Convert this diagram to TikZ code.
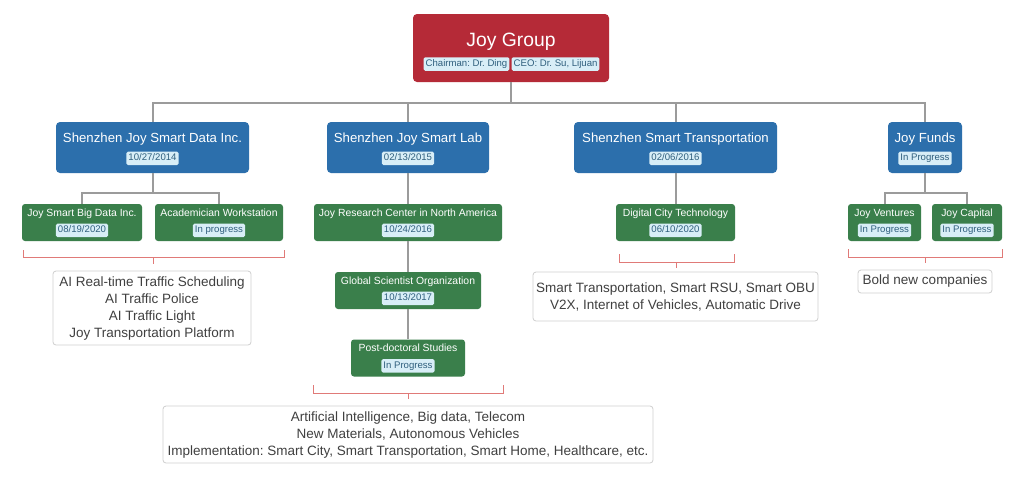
\documentclass[tikz,border=0pt]{standalone}
\usepackage{fontspec}
\setmainfont{Liberation Sans}
\usetikzlibrary{calc}
\frenchspacing
\definecolor{grpred}{HTML}{B52A37}
\definecolor{corpblue}{HTML}{2C6FAC}
\definecolor{unitgreen}{HTML}{3A7F4B}
\definecolor{tagfill}{HTML}{D8EEF7}
\definecolor{tagtext}{HTML}{2F5F7D}
\definecolor{linkgray}{HTML}{9B9B9B}
\definecolor{brackred}{HTML}{E07A78}
\definecolor{sumborder}{HTML}{CFCFCF}
\definecolor{sumtext}{HTML}{404040}
\tikzset{
  box/.style={draw=none, rounded corners=4pt, inner sep=0pt},
  grpbox/.style={box, fill=grpred},
  corpbox/.style={box, fill=corpblue},
  unitbox/.style={box, fill=unitgreen, rounded corners=3pt},
  grptitle/.style={text=white, inner sep=0pt, anchor=base, font=\fontsize{19.3}{22}\selectfont\frenchspacing},
  corptitle/.style={text=white, inner sep=0pt, anchor=base, font=\fontsize{13.2}{15}\selectfont\frenchspacing},
  unittitle/.style={text=white, inner sep=0pt, anchor=base, font=\fontsize{10.4}{12}\selectfont\frenchspacing},
  tagbox/.style={fill=tagfill, text=tagtext, rounded corners=1.5pt, inner xsep=2pt, inner ysep=0pt,
    minimum height=13.5pt, text height=7.2pt, text depth=2pt, font=\fontsize{9.6}{10}\selectfont\frenchspacing},
  link/.style={draw=linkgray, line width=2pt},
  brack/.style={draw=brackred, line width=1pt},
  sumbox/.style={draw=sumborder, line width=0.8pt, fill=white, rounded corners=3pt, text=sumtext,
    align=center, font=\fontsize{13.5}{17}\selectfont\frenchspacing, inner sep=0pt},
}
\begin{document}
\begin{tikzpicture}[x=1pt,y=-1pt]
\path[use as bounding box, fill=white] (0,0) rectangle (1024,483);

% top
\node[grpbox, minimum width=196pt, minimum height=68pt] (grp) at (511,48) {};
\node[grptitle] (grpt) at ($(grp.north)+(0,33)$) {Joy Group};
\node[tagbox, anchor=east] (grpa) at (509.5,64) {Chairman: Dr. Ding};
\node[tagbox, anchor=west] (grpb) at (511.5,64) {CEO: Dr. Su, Lijuan};

% companies
\node[corpbox, minimum width=193pt, minimum height=51pt] (c1) at (152.5,147.5) {};
\node[corptitle] (c1t) at ($(c1.north)+(0,21)$) {Shenzhen Joy Smart Data Inc.};
\node[tagbox] (c1d) at ($(c1.north)+(0,36.5)$) {10/27/2014};

\node[corpbox, minimum width=162pt, minimum height=51pt] (c2) at (408,147.5) {};
\node[corptitle] (c2t) at ($(c2.north)+(0,21)$) {Shenzhen Joy Smart Lab};
\node[tagbox] (c2d) at ($(c2.north)+(0,36.5)$) {02/13/2015};

\node[corpbox, minimum width=203pt, minimum height=51pt] (c3) at (675.5,147.5) {};
\node[corptitle] (c3t) at ($(c3.north)+(0,21)$) {Shenzhen Smart Transportation};
\node[tagbox] (c3d) at ($(c3.north)+(0,36.5)$) {02/06/2016};

\node[corpbox, minimum width=74pt, minimum height=51pt] (c4) at (925,147.5) {};
\node[corptitle] (c4t) at ($(c4.north)+(0,21)$) {Joy Funds};
\node[tagbox] (c4d) at ($(c4.north)+(0,36.5)$) {In Progress};

% units
\node[unitbox, minimum width=120pt, minimum height=37pt] (u1) at (82,222.5) {};
\node[unittitle] (u1t) at ($(u1.north)+(0,12.5)$) {Joy Smart Big Data Inc.};
\node[tagbox] (u1d) at ($(u1.north)+(0,26.5)$) {08/19/2020};

\node[unitbox, minimum width=128pt, minimum height=37pt] (u2) at (219,222.5) {};
\node[unittitle] (u2t) at ($(u2.north)+(0,12.5)$) {Academician Workstation};
\node[tagbox] (u2d) at ($(u2.north)+(0,26.5)$) {In progress};

\node[unitbox, minimum width=188pt, minimum height=37pt] (u3) at (408,222.5) {};
\node[unittitle] (u3t) at ($(u3.north)+(0,12.5)$) {Joy Research Center in North America};
\node[tagbox] (u3d) at ($(u3.north)+(0,26.5)$) {10/24/2016};

\node[unitbox, minimum width=146pt, minimum height=37pt] (u4) at (408,290.5) {};
\node[unittitle] (u4t) at ($(u4.north)+(0,12.5)$) {Global Scientist Organization};
\node[tagbox] (u4d) at ($(u4.north)+(0,26.5)$) {10/13/2017};

\node[unitbox, minimum width=114pt, minimum height=37pt] (u5) at (408,358) {};
\node[unittitle] (u5t) at ($(u5.north)+(0,12.5)$) {Post-doctoral Studies};
\node[tagbox] (u5d) at ($(u5.north)+(0,26.5)$) {In Progress};

\node[unitbox, minimum width=119pt, minimum height=37pt] (u6) at (675.5,222.5) {};
\node[unittitle] (u6t) at ($(u6.north)+(0,12.5)$) {Digital City Technology};
\node[tagbox] (u6d) at ($(u6.north)+(0,26.5)$) {06/10/2020};

\node[unitbox, minimum width=73pt, minimum height=37pt] (u7) at (884.5,222.5) {};
\node[unittitle] (u7t) at ($(u7.north)+(0,12.5)$) {Joy Ventures};
\node[tagbox] (u7d) at ($(u7.north)+(0,26.5)$) {In Progress};

\node[unitbox, minimum width=70pt, minimum height=37pt] (u8) at (967,222.5) {};
\node[unittitle] (u8t) at ($(u8.north)+(0,12.5)$) {Joy Capital};
\node[tagbox] (u8d) at ($(u8.north)+(0,26.5)$) {In Progress};

% connectors
\foreach \c in {c1,c2,c3,c4}
  \draw[link] (grp.south) -- ++(0,21) -| (\c.north);
\draw[link] (c1.south) -- ++(0,20) -| (u1.north);
\draw[link] (c1.south) -- ++(0,20) -| (u2.north);
\draw[link] (c2.south) -- (u3.north);
\draw[link] (u3.south) -- (u4.north);
\draw[link] (u4.south) -- (u5.north);
\draw[link] (c3.south) -- (u6.north);
\draw[link] (c4.south) -- ++(0,20) -| (u7.north);
\draw[link] (c4.south) -- ++(0,20) -| (u8.north);

% summaries
\node[sumbox, minimum width=198pt, minimum height=74pt] (s1) at (152,308)
  {AI Real-time Traffic Scheduling\\AI Traffic Police\\AI Traffic Light\\Joy Transportation Platform};
\node[sumbox, minimum width=490pt, minimum height=57pt] (s2) at (408,434.5)
  {Artificial Intelligence, Big data, Telecom\\New Materials, Autonomous Vehicles\\Implementation: Smart City, Smart Transportation, Smart Home, Healthcare, etc.};
\node[sumbox, minimum width=285pt, minimum height=49pt] (s3) at (675.5,296.5)
  {Smart Transportation, Smart RSU, Smart OBU\\V2X, Internet of Vehicles, Automatic Drive};
\node[sumbox, minimum width=134pt, minimum height=23pt] (s4) at (925,281.5)
  {Bold new companies};

% brackets
\coordinate (b1a) at (23,250);  \coordinate (b1b) at (284,250);  \coordinate (b1c) at (153.5,257);
\coordinate (b2a) at (313,385); \coordinate (b2b) at (503,385);  \coordinate (b2c) at (408,393);
\coordinate (b3a) at (619,254); \coordinate (b3b) at (734,254);  \coordinate (b3c) at (676.5,262);
\coordinate (b4a) at (848,249); \coordinate (b4b) at (1002,249); \coordinate (b4c) at (925,257);
\draw[brack] (b1a) -- ++(0,7) -| (b1b);  \draw[brack] (b1c) -- ++(0,7);
\draw[brack] (b2a) -- ++(0,8) -| (b2b);  \draw[brack] (b2c) -- ++(0,6);
\draw[brack] (b3a) -- ++(0,8) -| (b3b);  \draw[brack] (b3c) -- ++(0,6);
\draw[brack] (b4a) -- ++(0,8) -| (b4b);  \draw[brack] (b4c) -- ++(0,6);
\end{tikzpicture}
\end{document}
